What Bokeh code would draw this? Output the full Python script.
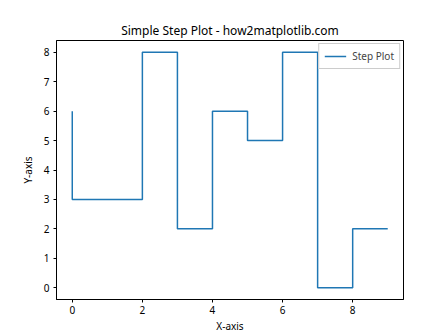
from bokeh.plotting import figure
from bokeh.models import Range1d, FixedTicker, Legend, LegendItem, Title
from bokeh.embed import file_html
from bokeh.resources import INLINE

x_vals = [0, 1, 2, 3, 4, 5, 6, 7, 8, 9]
y_vals = [6, 3, 3, 8, 2, 6, 5, 8, 0, 2]
x_ticks = [0, 2, 4, 6, 8]
y_ticks = [0, 1, 2, 3, 4, 5, 6, 7, 8]
series_name = "Step Plot"
title_text = "Simple Step Plot - how2matplotlib.com"

FONT = "Noto Sans"

p = figure(width=448, height=336, output_backend="svg", toolbar_location=None,
           x_range=Range1d(-0.45, 9.45), y_range=Range1d(-0.4, 8.4),
           min_border_left=56, min_border_right=45, min_border_top=40, min_border_bottom=37)
p.title = None
t = Title(text=title_text, text_font=FONT, text_font_size="12px", text_font_style="normal",
          align="center", text_color="black", standoff=4)
p.add_layout(t, "above")

r = p.step(x_vals, y_vals, mode="before", line_color="#1f77b4", line_width=1.5)

p.xgrid.visible = False
p.ygrid.visible = False
p.outline_line_color = "black"
p.outline_line_width = 1
p.background_fill_color = "white"
p.border_fill_color = "white"

for ax in (p.xaxis[0], p.yaxis[0]):
    ax.major_label_text_font = FONT
    ax.major_label_text_font_size = "10px"
    ax.major_label_text_color = "black"
    ax.axis_label_text_font = FONT
    ax.axis_label_text_font_size = "10px"
    ax.axis_label_text_font_style = "normal"
    ax.axis_label_text_color = "black"
    ax.major_tick_out = 3
    ax.major_tick_in = 0
    ax.minor_tick_out = 0
    ax.minor_tick_in = 0
    ax.axis_line_color = "black"
    ax.major_tick_line_color = "black"

p.xaxis[0].ticker = FixedTicker(ticks=x_ticks)
p.yaxis[0].ticker = FixedTicker(ticks=y_ticks)
p.xaxis[0].axis_label = "X-axis"
p.yaxis[0].axis_label = "Y-axis"
p.xaxis[0].axis_label_standoff = 2
p.yaxis[0].axis_label_standoff = 6
p.xaxis[0].major_label_standoff = 3
p.yaxis[0].major_label_standoff = 4

legend = Legend(items=[LegendItem(label=series_name, renderers=[r])], location="top_right",
                label_text_font=FONT, label_text_font_size="10px",
                border_line_color="#cccccc", border_line_alpha=1, background_fill_alpha=0.8,
                glyph_width=22, glyph_height=12, label_standoff=6, padding=5, margin=3,
                spacing=0)
p.add_layout(legend)

open("out.html", "w").write(file_html(p, INLINE))
